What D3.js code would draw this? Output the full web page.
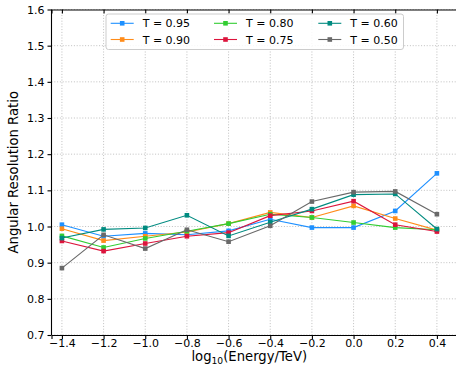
<!DOCTYPE html>
<html><head><meta charset="utf-8">
<script src="https://cdn.jsdelivr.net/npm/d3@7/dist/d3.min.js"></script>
<style>
body{margin:0;background:#fff;}
svg{display:block;font-family:"DejaVu Sans",sans-serif;}
</style></head>
<body><svg id="c" width="456" height="374"></svg>
<script>
const energies = [-1.4,-1.2,-1.0,-0.8,-0.6,-0.4,-0.2,0.0,0.2,0.4];
const xTicks = [-1.4,-1.2,-1.0,-0.8,-0.6,-0.4,-0.2,0.0,0.2,0.4];
const yTicks = [0.7,0.8,0.9,1.0,1.1,1.2,1.3,1.4,1.5,1.6];
const seriesNames = ["T = 0.95","T = 0.90","T = 0.80","T = 0.75","T = 0.60","T = 0.50"];
const seriesColors = ["#1e90ff","#ff8c1a","#32cd32","#dc143c","#008b80","#696969"];
const T095 = [1.005,0.973,0.981,0.977,0.988,1.020,0.997,0.997,1.043,1.147];
const T090 = [0.994,0.961,0.973,0.985,1.008,1.039,1.025,1.057,1.022,0.990];
const T080 = [0.974,0.942,0.967,0.987,1.008,1.034,1.025,1.011,0.997,0.991];
const T075 = [0.960,0.932,0.953,0.973,0.983,1.030,1.043,1.070,1.005,0.986];
const T060 = [0.968,0.992,0.996,1.031,0.974,1.012,1.048,1.088,1.090,0.993];
const T050 = [0.885,0.977,0.939,0.991,0.958,1.002,1.069,1.095,1.097,1.034];
const seriesValues = [T095,T090,T080,T075,T060,T050];

const svg = d3.select("#c");
const L = 51.5, R = 470, T = 9.5, B = 335;
const x = d3.scaleLinear().domain([-1.45, 0.4 + (R-436.9)/208.33]).range([L, R]);
const y = d3.scaleLinear().domain([0.7, 1.6]).range([B, T]);
const fmt = d => d3.format(".1f")(d).replace("-", "\u2212");

// grid
const g = svg.append("g");
g.selectAll(".vg").data(xTicks).join("line")
  .attr("x1", d => x(d)).attr("x2", d => x(d)).attr("y1", T).attr("y2", B)
  .attr("stroke", "#b0b0b0").attr("stroke-width", 0.8).attr("stroke-dasharray", "1,1.8");
g.selectAll(".hg").data(yTicks).join("line")
  .attr("x1", L).attr("x2", R).attr("y1", d => y(d)).attr("y2", d => y(d))
  .attr("stroke", "#b0b0b0").attr("stroke-width", 0.8).attr("stroke-dasharray", "1,1.8");

// series
const line = d3.line().x((d,i) => x(energies[i])).y(d => y(d));
seriesValues.forEach((vals, k) => {
  const s = svg.append("g");
  s.append("path").attr("d", line(vals)).attr("fill", "none")
    .attr("stroke", seriesColors[k]).attr("stroke-width", 1.1);
  s.selectAll("rect").data(vals).join("rect")
    .attr("x", (d,i) => x(energies[i]) - 2.3).attr("y", d => y(d) - 2.3)
    .attr("width", 4.6).attr("height", 4.6).attr("fill", seriesColors[k]);
});

// axes
const xAxis = svg.append("g").attr("transform", `translate(0,${B})`)
  .call(d3.axisBottom(x).tickValues(xTicks).tickFormat(fmt).tickSizeOuter(0).tickSize(4).tickPadding(0.5));
const yAxis = svg.append("g").attr("transform", `translate(${L},0)`)
  .call(d3.axisLeft(y).tickValues(yTicks).tickFormat(d => d3.format(".1f")(d)).tickSizeOuter(0).tickSize(4).tickPadding(3));
const topAxis = svg.append("g").attr("transform", `translate(0,${T})`)
  .call(d3.axisBottom(x).tickValues(xTicks).tickFormat("").tickSizeOuter(0).tickSize(4));
[xAxis, yAxis, topAxis].forEach(a => {
  a.select(".domain").attr("stroke", "#000").attr("stroke-width", 1.1);
  a.selectAll(".tick line").attr("stroke", "#000").attr("stroke-width", 1.1);
  a.selectAll(".tick text").attr("fill", "#000").style("font-size", "11px").style("font-family", "DejaVu Sans");
});
yAxis.select(".domain").attr("d", `M0,${B}V${T}`);

// axis labels
const xl = svg.append("text").attr("x", (L + 447)/2).attr("y", 361).attr("text-anchor", "middle")
  .style("font-size", "13.2px");
xl.append("tspan").text("log");
xl.append("tspan").attr("dy", 3).style("font-size", "9.2px").text("10");
xl.append("tspan").attr("dy", -3).text("(Energy/TeV)");
svg.append("text").attr("transform", `translate(18,${(T+B)/2}) rotate(-90)`)
  .attr("text-anchor", "middle").style("font-size", "13.2px").text("Angular Resolution Ratio");

// legend
const lg = svg.append("g");
lg.append("rect").attr("x", 106).attr("y", 14).attr("width", 297.5).attr("height", 35.5)
  .attr("rx", 2.5).attr("fill", "#fff").attr("fill-opacity", 0.85)
  .attr("stroke", "#cccccc").attr("stroke-width", 1);
const colX = [110.7, 214, 318.3];
const rowY = [23.3, 39.5];
seriesNames.forEach((name, k) => {
  const cx = colX[Math.floor(k/2)], cy = rowY[k%2];
  lg.append("line").attr("x1", cx).attr("x2", cx + 23).attr("y1", cy).attr("y2", cy)
    .attr("stroke", seriesColors[k]).attr("stroke-width", 1.1);
  lg.append("rect").attr("x", cx + 11.5 - 2.3).attr("y", cy - 2.3).attr("width", 4.6).attr("height", 4.6)
    .attr("fill", seriesColors[k]);
  lg.append("text").attr("x", cx + 32).attr("y", cy + 4).style("font-size", "11px").text(name);
});
</script></body></html>
